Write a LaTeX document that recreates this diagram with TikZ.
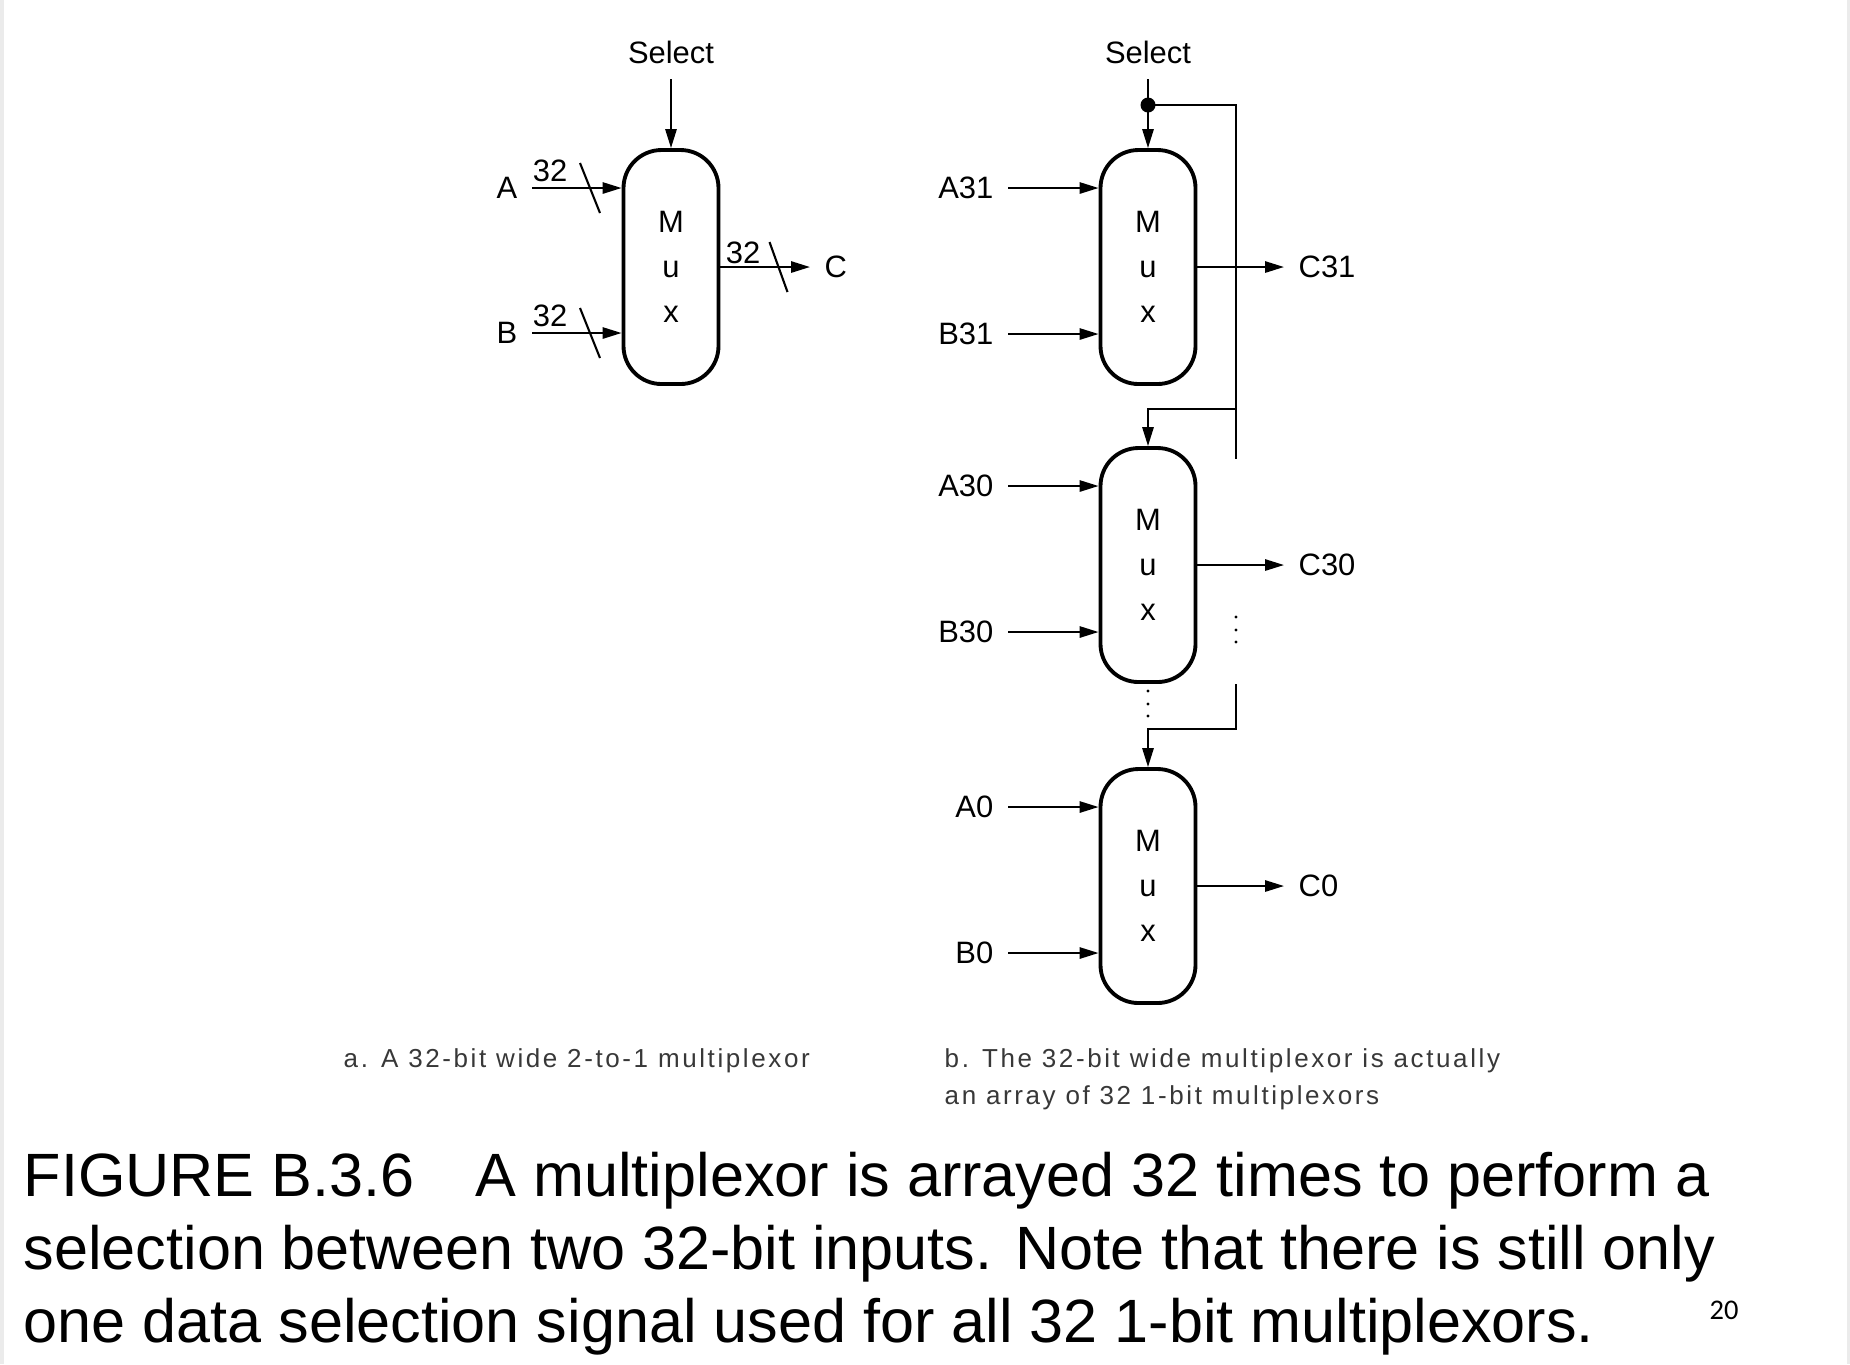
\documentclass[tikz,border=0pt]{standalone}
\usepackage{fontspec}
\setmainfont{Liberation Sans}
\newfontfamily\subcapfont[LetterSpace=10]{Liberation Sans}
\newfontfamily\pagefont{Carlito}
\usetikzlibrary{arrows.meta}
\begin{document}
\begin{tikzpicture}[
  wire/.style={line width=0.6pt},
  sig/.style={wire,-{Triangle[length=5.4pt,width=3.2pt]}},
  muxbox/.style={draw, line width=1.1pt, rounded corners=0.38cm, minimum width=0.95cm, minimum height=2.34cm, inner sep=0, align=center, font=\fontsize{8.8}{12.8}\selectfont},
  lbl/.style={inner xsep=0.14cm, inner ysep=0.1cm, font=\fontsize{8.8}{10}\selectfont},
  bus/.style={inner sep=0, font=\fontsize{8.8}{10}\selectfont},
  subcap/.style={inner sep=0, anchor=base west, text=black!78, font=\subcapfont\fontsize{7.4}{9}\selectfont},
  figcap/.style={inner sep=0, anchor=base west, font=\fontsize{17.4}{20.8}\selectfont},
  joint/.style={circle, fill, inner sep=0, minimum size=0.15cm}
]
\useasboundingbox (0,0) rectangle (18.5,-13.64);
\fill[white] (0,0) rectangle (18.5,-13.64);
\fill[black!8] (0,0) rectangle (0.04,-13.64);
\fill[black!8] (18.47,0) rectangle (18.5,-13.64);

\node[muxbox] (muxa) at (6.71,-2.67) {M\\u\\x};
\node[lbl, inner ysep=0.15cm] (sela) at (6.71,-0.52) {Select};
\node[lbl, anchor=east] (A) at (5.32,-1.88) {A};
\node[lbl, anchor=east] (B) at (5.32,-3.33) {B};
\node[lbl, anchor=west] (C) at (8.10,-2.67) {C};
\node[bus] (na) at (5.50,-1.71) {32};
\node[bus] (nb) at (5.50,-3.16) {32};
\node[bus] (nc) at (7.43,-2.53) {32};
\coordinate (sla) at (5.90,-1.88);
\coordinate (slb) at (5.90,-3.33);
\coordinate (slc) at (7.785,-2.67);

\path[draw,sig] (sela) -- (muxa);
\path[draw,sig] (A) -- (A -| muxa.west);
\path[draw,sig] (B) -- (B -| muxa.west);
\path[draw,sig] (muxa) -- (C);
\path[draw,wire] (sla) +(-0.1,0.25) -- +(0.1,-0.25);
\path[draw,wire] (slb) +(-0.1,0.25) -- +(0.1,-0.25);
\path[draw,wire] (slc) +(-0.09,0.25) -- +(0.09,-0.25);

\node[lbl, inner ysep=0.15cm] (selb) at (11.48,-0.52) {Select};
\node[joint] (dot) at (11.48,-1.05) {};
\node[muxbox] (mux31) at (11.48,-2.67) {M\\u\\x};
\node[muxbox] (mux30) at (11.48,-5.65) {M\\u\\x};
\node[muxbox] (mux0) at (11.48,-8.86) {M\\u\\x};
\node[lbl, anchor=east] (A31) at (10.08,-1.88) {A31};
\node[lbl, anchor=east] (B31) at (10.08,-3.34) {B31};
\node[lbl, anchor=east] (A30) at (10.08,-4.86) {A30};
\node[lbl, anchor=east] (B30) at (10.08,-6.32) {B30};
\node[lbl, anchor=east] (A0) at (10.08,-8.07) {A0};
\node[lbl, anchor=east] (B0) at (10.08,-9.53) {B0};
\node[lbl, anchor=west] (C31) at (12.84,-2.67) {C31};
\node[lbl, anchor=west] (C30) at (12.84,-5.65) {C30};
\node[lbl, anchor=west] (C0) at (12.84,-8.86) {C0};
\coordinate (r1) at (12.36,-4.59);
\coordinate (f1) at (12.36,-4.09);
\coordinate (r2) at (12.36,-6.84);
\coordinate (r3) at (12.36,-7.29);

\path[draw,wire] (selb) -- (dot.center);
\path[draw,sig] (dot.center) -- (mux31);
\path[draw,wire] (dot.center) -| (r1);
\path[draw,sig] (f1) -| (mux30.north);
\path[draw,sig] (r2) -- (r3) -| (mux0.north);
\path[draw,sig] (A31) -- (A31 -| mux31.west);
\path[draw,sig] (B31) -- (B31 -| mux31.west);
\path[draw,sig] (A30) -- (A30 -| mux30.west);
\path[draw,sig] (B30) -- (B30 -| mux30.west);
\path[draw,sig] (A0) -- (A0 -| mux0.west);
\path[draw,sig] (B0) -- (B0 -| mux0.west);
\path[draw,sig] (mux31) -- (C31);
\path[draw,sig] (mux30) -- (C30);
\path[draw,sig] (mux0) -- (C0);
\foreach \y in {6.17,6.30,6.42} \fill (12.36,-\y) circle (0.017);
\foreach \y in {6.91,7.04,7.16} \fill (11.48,-\y) circle (0.017);

\node[subcap] (capa) at (3.43,-10.67) {a. A 32-bit wide 2-to-1 multiplexor};
\node[subcap] (capb1) at (9.44,-10.67) {b. The 32-bit wide multiplexor is actually};
\node[subcap] (capb2) at (9.44,-11.04) {an array of 32 1-bit multiplexors};
\node[figcap] (fig1) at (0.23,-11.96) {FIGURE B.3.6\hspace{1em}A multiplexor is arrayed 32 times to perform a};
\node[figcap] (fig2) at (0.23,-12.69) {selection between two 32-bit inputs. Note that there is still only};
\node[figcap] (fig3) at (0.23,-13.42) {one data selection signal used for all 32 1-bit multiplexors.};
\node[inner sep=0, font=\pagefont\fontsize{8.1}{9}\selectfont] (pg) at (17.24,-13.10) {20};
\end{tikzpicture}
\end{document}
